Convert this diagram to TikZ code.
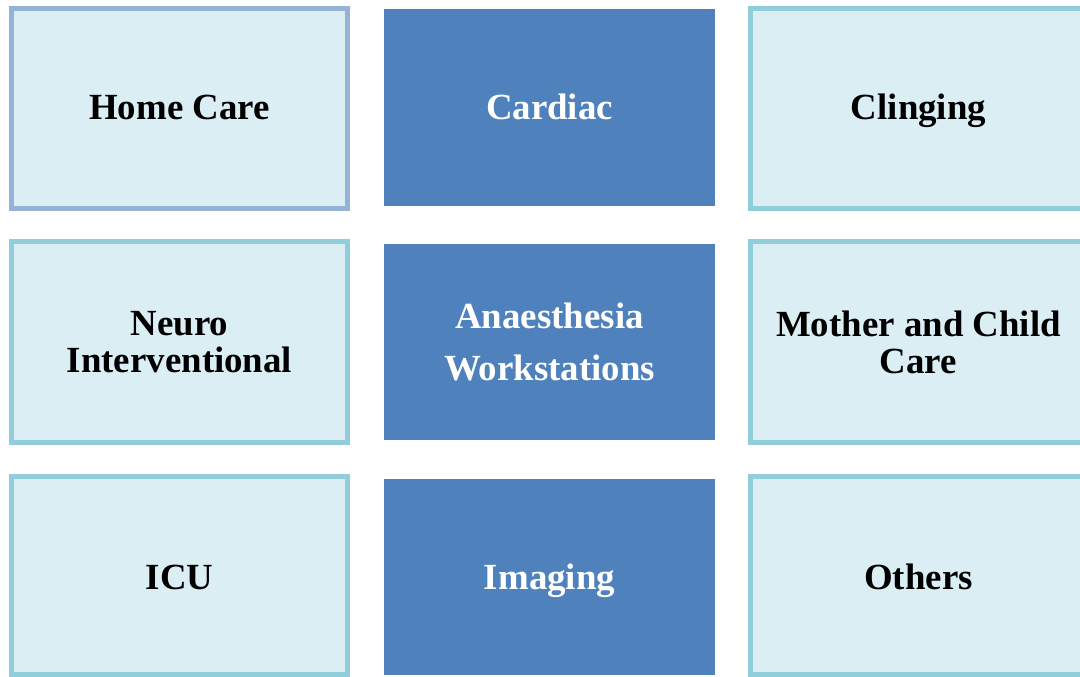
\documentclass[tikz,border=0pt]{standalone}
\usepackage{fontspec}
\setmainfont{Liberation Serif}
\definecolor{boxfill}{HTML}{DBEEF4}
\definecolor{edgeA}{HTML}{92CDDC}
\definecolor{edgeB}{HTML}{95B3D7}
\definecolor{midfill}{HTML}{4F81BD}
\tikzset{
  lightbox/.style={draw=edgeA, line width=5bp, fill=boxfill, inner sep=0pt},
  homebox/.style={lightbox, draw=edgeB},
  darkbox/.style={fill=midfill, draw=none, inner sep=0pt},
  dtext/.style={font=\bfseries\fontsize{37}{37}\selectfont, text=black, align=center},
  wtext/.style={font=\bfseries\fontsize{37}{53}\selectfont, text=white, align=center},
  oneline/.style={anchor=base},
}
\begin{document}
\begin{tikzpicture}[x=1bp,y=-1bp]
\useasboundingbox (0,0) rectangle (1080,677);
\clip (0,0) rectangle (1080,677);
% left column
\draw[homebox] (11.5,8.5) rectangle (347.5,208.5);
\draw[lightbox] (11.5,241.5) rectangle (347.5,442.5);
\draw[lightbox] (11.5,476.5) rectangle (347.5,674.5);
% middle column
\fill[darkbox] (384,9) rectangle (715,206);
\fill[darkbox] (384,244) rectangle (715,440);
\fill[darkbox] (384,479) rectangle (715,675);
% right column
\draw[lightbox] (750.5,8.5) rectangle (1086.5,208.5);
\draw[lightbox] (750.5,241.5) rectangle (1086.5,442.5);
\draw[lightbox] (750.5,476.5) rectangle (1086.5,674.5);
% texts
\node[dtext,oneline] (homecare) at (179.5,119.5) {Home Care};
\node[wtext,oneline] (cardiac) at (549.5,119.5) {Cardiac};
\node[dtext,oneline] (clinging) at (918.5,119.5) {Clinging};
\node[dtext] (neuro) at (179.5,342) {Neuro\\Interventional};
\node[wtext] (anaes) at (549.5,342) {Anaesthesia\\Workstations};
\node[dtext] (mother) at (918.5,342) {Mother and Child\\Care};
\node[dtext,oneline] (icu) at (179.5,589.5) {ICU};
\node[wtext,oneline] (imaging) at (549.5,589.5) {Imaging};
\node[dtext,oneline] (others) at (918.5,589.5) {Others};
\end{tikzpicture}
\end{document}
